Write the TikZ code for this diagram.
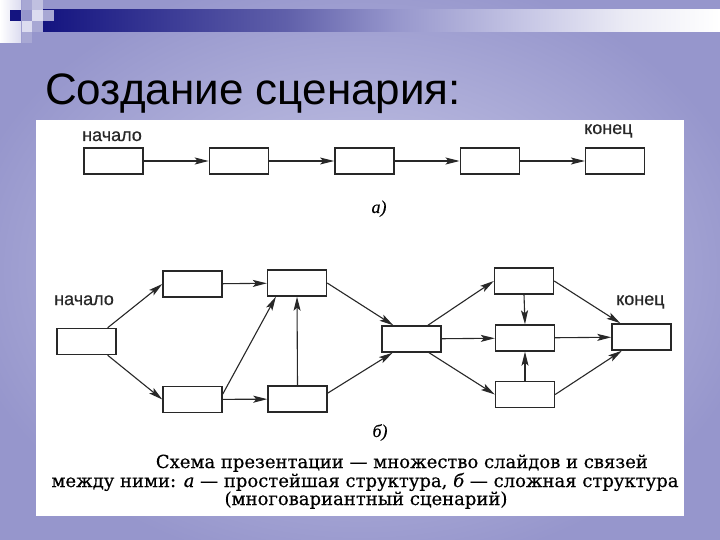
\documentclass[tikz,border=0pt]{standalone}
\usepackage{fontspec}
\setmainfont{Liberation Sans}
\newfontfamily\capfont[FakeBold=0.4]{DejaVu Serif}
\newfontfamily\letfont[FakeBold=0.3]{Liberation Serif}
\newfontfamily\lblfont[FakeBold=0.6]{Liberation Sans}
\usetikzlibrary{positioning,arrows.meta}

\definecolor{bgin}{RGB}{206,206,234}
\definecolor{bgout}{RGB}{150,150,204}
\definecolor{barnavy}{RGB}{20,20,128}
\definecolor{barmid}{RGB}{96,96,170}
\definecolor{barlav}{RGB}{150,150,204}
\definecolor{barlight}{RGB}{200,200,230}
\definecolor{barpale}{RGB}{235,235,245}
\definecolor{sqmid}{RGB}{168,168,212}
\definecolor{sqlight}{RGB}{192,192,224}
\definecolor{sqpale}{RGB}{220,220,240}
\definecolor{inkgray}{RGB}{40,40,40}

\pgfdeclareradialshading{slidebg}{\pgfpoint{0bp}{0bp}}{color(0bp)=(bgin); color(28bp)=(bgout); color(50bp)=(bgout)}
\pgfdeclarehorizontalshading{topbar}{100bp}{color(0bp)=(barnavy); color(25bp)=(barnavy); color(43bp)=(barmid); color(51bp)=(barlav); color(61bp)=(barlight); color(68bp)=(barpale); color(75bp)=(white); color(100bp)=(white)}

\begin{document}
\begin{tikzpicture}[x=1pt,y=-1pt,
  box/.style={draw=inkgray, line width=1.4pt, fill=white, minimum width=59pt, minimum height=26pt, inner sep=0pt},
  link/.style={draw=inkgray, line width=1.1pt, -{Stealth[length=14pt,width=7pt,inset=3pt]}},
  lbl/.style={text=inkgray, inner sep=0pt, font=\lblfont\fontsize{18}{20}\selectfont},
  tag/.style={inner sep=0pt, font=\letfont\itshape\fontsize{18}{20}\selectfont},
  capt/.style={inner sep=0pt, font=\capfont\fontsize{18}{20}\selectfont}]
  % slide background
  \shade[shading=slidebg] (0,0) rectangle (720,540);
  \useasboundingbox (0,0) rectangle (720,540);
  \shade[left color=white, right color=sqpale] (0,0) rectangle (21,43);
  \shade[shading=topbar] (43,10) rectangle (720,32);
  \fill[barnavy] (10,10) rectangle (21,21);
  \fill[sqmid] (22,0) rectangle (32,10);
  \fill[sqlight] (32,0) rectangle (43,10);
  \fill[sqpale] (32,10) rectangle (43,21);
  \fill[sqmid] (43,10) rectangle (54,21);
  \fill[sqpale] (22,21) rectangle (32,32);
  \fill[sqmid] (32,21) rectangle (43,32);
  \fill[sqmid] (22,32) rectangle (32,43);
  \node[anchor=base west, inner sep=0pt, font=\fontsize{44}{50}\selectfont] (title) at (45,105) {Создание сценария:};
  \fill[white] (36,120) rectangle (684,516);

  % a) a plain chain of slides
  \node[box] (a1) at (113.5,161) {};
  \node[box, right=65pt of a1] (a2) {};
  \node[box, right=65pt of a2] (a3) {};
  \node[box, right=65pt of a3] (a4) {};
  \node[box, right=65pt of a4] (a5) {};
  \foreach \i/\j in {1/2,2/3,3/4,4/5}
    \draw[link] (a\i) -- (a\j);
  \node[lbl, anchor=base west] (aStart) at (82,141) {начало};
  \node[lbl, anchor=base west] (aEnd) at (584,134) {конец};
  \node[tag, anchor=base] (tagA) at (379,213) {а)};

  % b) branching scenario
  \node[box] (start) at (86.5,341.5) {};
  \node[box] (up1) at (192.5,284) {};
  \node[box] (low1) at (192.5,399.5) {};
  \node[box] (up2) at (297,283) {};
  \node[box] (low2) at (297.5,399) {};
  \node[box] (mid) at (411.5,339) {};
  \node[box] (rt) at (524,281) {};
  \node[box] (rm) at (525,338) {};
  \node[box] (rb) at (525,394.5) {};
  \node[box] (fin) at (641.5,337) {};
  \node[lbl, anchor=base west] (bStart) at (54,305) {начало};
  \node[lbl, anchor=base west] (bEnd) at (616,305) {конец};
  \draw[link] (start.33) -- (up1.west);
  \draw[link] (start.-33) -- (low1.west);
  \draw[link] (up1) -- (up2);
  \draw[link] (low1.10) -- (up2.213);
  \draw[link] (low1) -- (low2);
  \draw[link] (low2.north) -- (up2.south);
  \draw[link] (up2.east) -- (mid.143);
  \draw[link] (low2.11) -- (mid.216);
  \draw[link] (mid.40) -- (rt.west);
  \draw[link] (mid) -- (rm);
  \draw[link] (mid.-38) -- (rb.west);
  \draw[link] (rt.south) -- (rm.north);
  \draw[link] (rb.north) -- (rm.south);
  \draw[link] (rt.east) -- (fin.147);
  \draw[link] (rm) -- (fin);
  \draw[link] (rb.east) -- (fin.215);
  \node[tag, anchor=base] (tagB) at (380,437) {б)};

  % caption
  \node[capt, anchor=base east] (cap1) at (648,468) {Схема презентации — множество слайдов и связей};
  \node[capt, anchor=base] (cap2) at (365,487) {между ними: \textit{а} — простейшая структура, \textit{б} — сложная структура};
  \node[capt, anchor=base] (cap3) at (366,505) {(многовариантный сценарий)};
\end{tikzpicture}
\end{document}
